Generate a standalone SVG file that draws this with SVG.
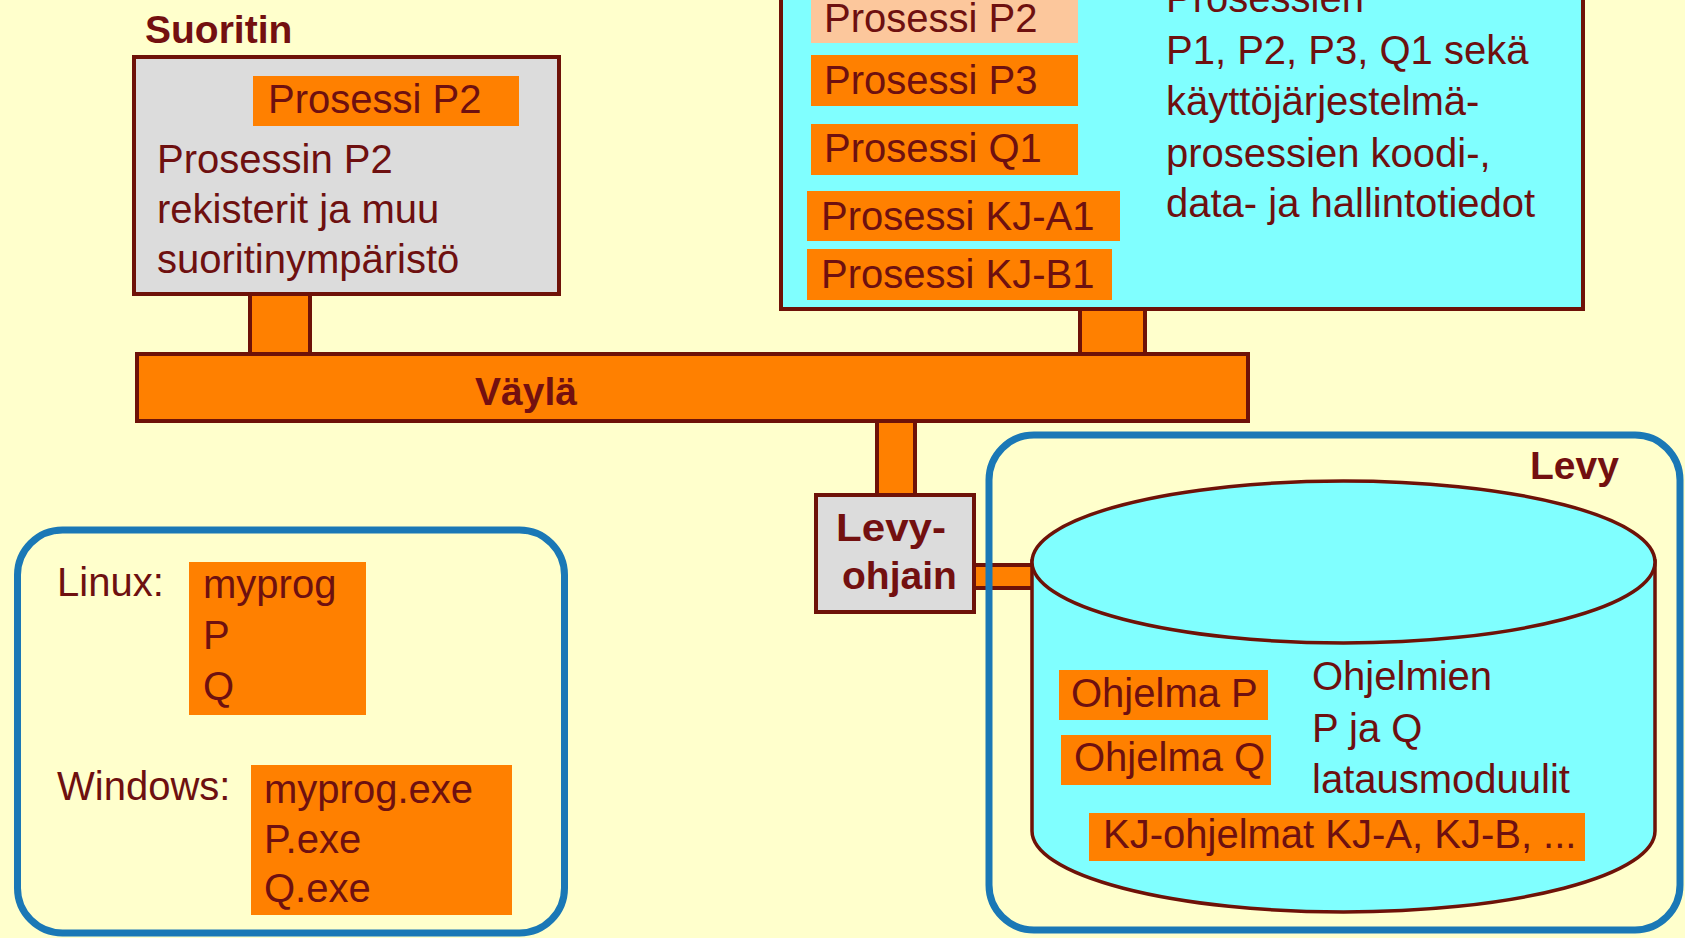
<svg xmlns="http://www.w3.org/2000/svg" width="1685" height="938" viewBox="0 0 1685 938">
<style>
.t{font-family:"Liberation Sans",Arial,sans-serif;font-size:40px;fill:#6e1010}
.b{font-family:"Liberation Sans",Arial,sans-serif;font-size:39px;font-weight:bold;fill:#731010}
.or{fill:#ff8000}
.pe{fill:#fcc79c}
.frame{stroke:#6e1208;stroke-width:4}
.stub{fill:#ff8000;stroke:#6e1208;stroke-width:4}
.blue{fill:none;stroke:#1a78b6;stroke-width:7}
</style>
<rect width="1685" height="938" fill="#ffffcc"/>

<g id="connectors">
<rect class="stub" x="250" y="292" width="60" height="64"/>
<rect class="stub" x="1080" y="307" width="65" height="49"/>
<rect class="stub" x="877" y="419" width="38" height="78"/>
<rect class="stub" x="972" y="565" width="62" height="23"/>
</g>

<g id="suoritin">
<text class="b" x="145" y="43">Suoritin</text>
<rect class="frame" x="134" y="57" width="425" height="237" fill="#dcdcdc"/>
<rect class="or" x="253" y="76" width="266" height="50"/>
<text class="t" x="268" y="113">Prosessi P2</text>
<text class="t" x="157" y="173">Prosessin P2</text>
<text class="t" x="157" y="223">rekisterit ja muu</text>
<text class="t" x="157" y="273">suoritinympäristö</text>
</g>

<g id="muisti">
<rect class="frame" x="781" y="-20" width="802" height="329" fill="#80ffff"/>
<rect class="pe" x="811" y="-10" width="267" height="53"/>
<text class="t" x="824" y="32">Prosessi P2</text>
<rect class="or" x="811" y="55" width="267" height="51"/>
<text class="t" x="824" y="94">Prosessi P3</text>
<rect class="or" x="811" y="124" width="267" height="51"/>
<text class="t" x="824" y="162">Prosessi Q1</text>
<rect class="or" x="807" y="191" width="313" height="50"/>
<text class="t" x="821" y="230">Prosessi KJ-A1</text>
<rect class="or" x="807" y="249" width="305" height="51"/>
<text class="t" x="821" y="288">Prosessi KJ-B1</text>
<text class="t" x="1166" y="12">Prosessien</text>
<text class="t" x="1166" y="64">P1, P2, P3, Q1 sekä</text>
<text class="t" x="1166" y="115">käyttöjärjestelmä-</text>
<text class="t" x="1166" y="167">prosessien koodi-,</text>
<text class="t" x="1166" y="217">data- ja hallintotiedot</text>
</g>

<g id="vayla">
<rect class="frame" x="137" y="354" width="1111" height="67" fill="#ff8000"/>
<text class="b" x="475" y="405">Väylä</text>
</g>

<g id="levyohjain">
<rect class="frame" x="816" y="495" width="158" height="117" fill="#dcdcdc"/>
<text class="b" x="836" y="541" textLength="110" lengthAdjust="spacingAndGlyphs">Levy-</text>
<text class="b" x="842" y="589">ohjain</text>
</g>

<g id="levy">
<path d="M1032,561 L1032,831 A311.5,81 0 0 0 1655,831 L1655,561 Z" fill="#80ffff" stroke="#6e1208" stroke-width="3.5"/>
<ellipse cx="1343.5" cy="562" rx="311.5" ry="81" fill="#80ffff" stroke="#6e1208" stroke-width="3.5"/>
<rect class="or" x="1059" y="670" width="209" height="50"/>
<text class="t" x="1071" y="707">Ohjelma P</text>
<rect class="or" x="1061" y="735" width="210" height="50"/>
<text class="t" x="1074" y="771">Ohjelma Q</text>
<text class="t" x="1312" y="690">Ohjelmien</text>
<text class="t" x="1312" y="742">P ja Q</text>
<text class="t" x="1312" y="793">latausmoduulit</text>
<rect class="or" x="1089" y="813" width="496" height="48"/>
<text class="t" x="1103" y="848">KJ-ohjelmat KJ-A, KJ-B, ...</text>
<rect class="blue" x="989" y="435" width="691" height="495" rx="45"/>
<text class="b" x="1530" y="479">Levy</text>
</g>

<g id="tiedostot">
<rect class="blue" x="17.5" y="530" width="547" height="403" rx="45"/>
<text class="t" x="57" y="596">Linux:</text>
<rect class="or" x="189" y="562" width="177" height="153"/>
<text class="t" x="203" y="598">myprog</text>
<text class="t" x="203" y="649">P</text>
<text class="t" x="203" y="700">Q</text>
<text class="t" x="57" y="800">Windows:</text>
<rect class="or" x="251" y="765" width="261" height="150"/>
<text class="t" x="264" y="803">myprog.exe</text>
<text class="t" x="264" y="853">P.exe</text>
<text class="t" x="264" y="902">Q.exe</text>
</g>
</svg>
